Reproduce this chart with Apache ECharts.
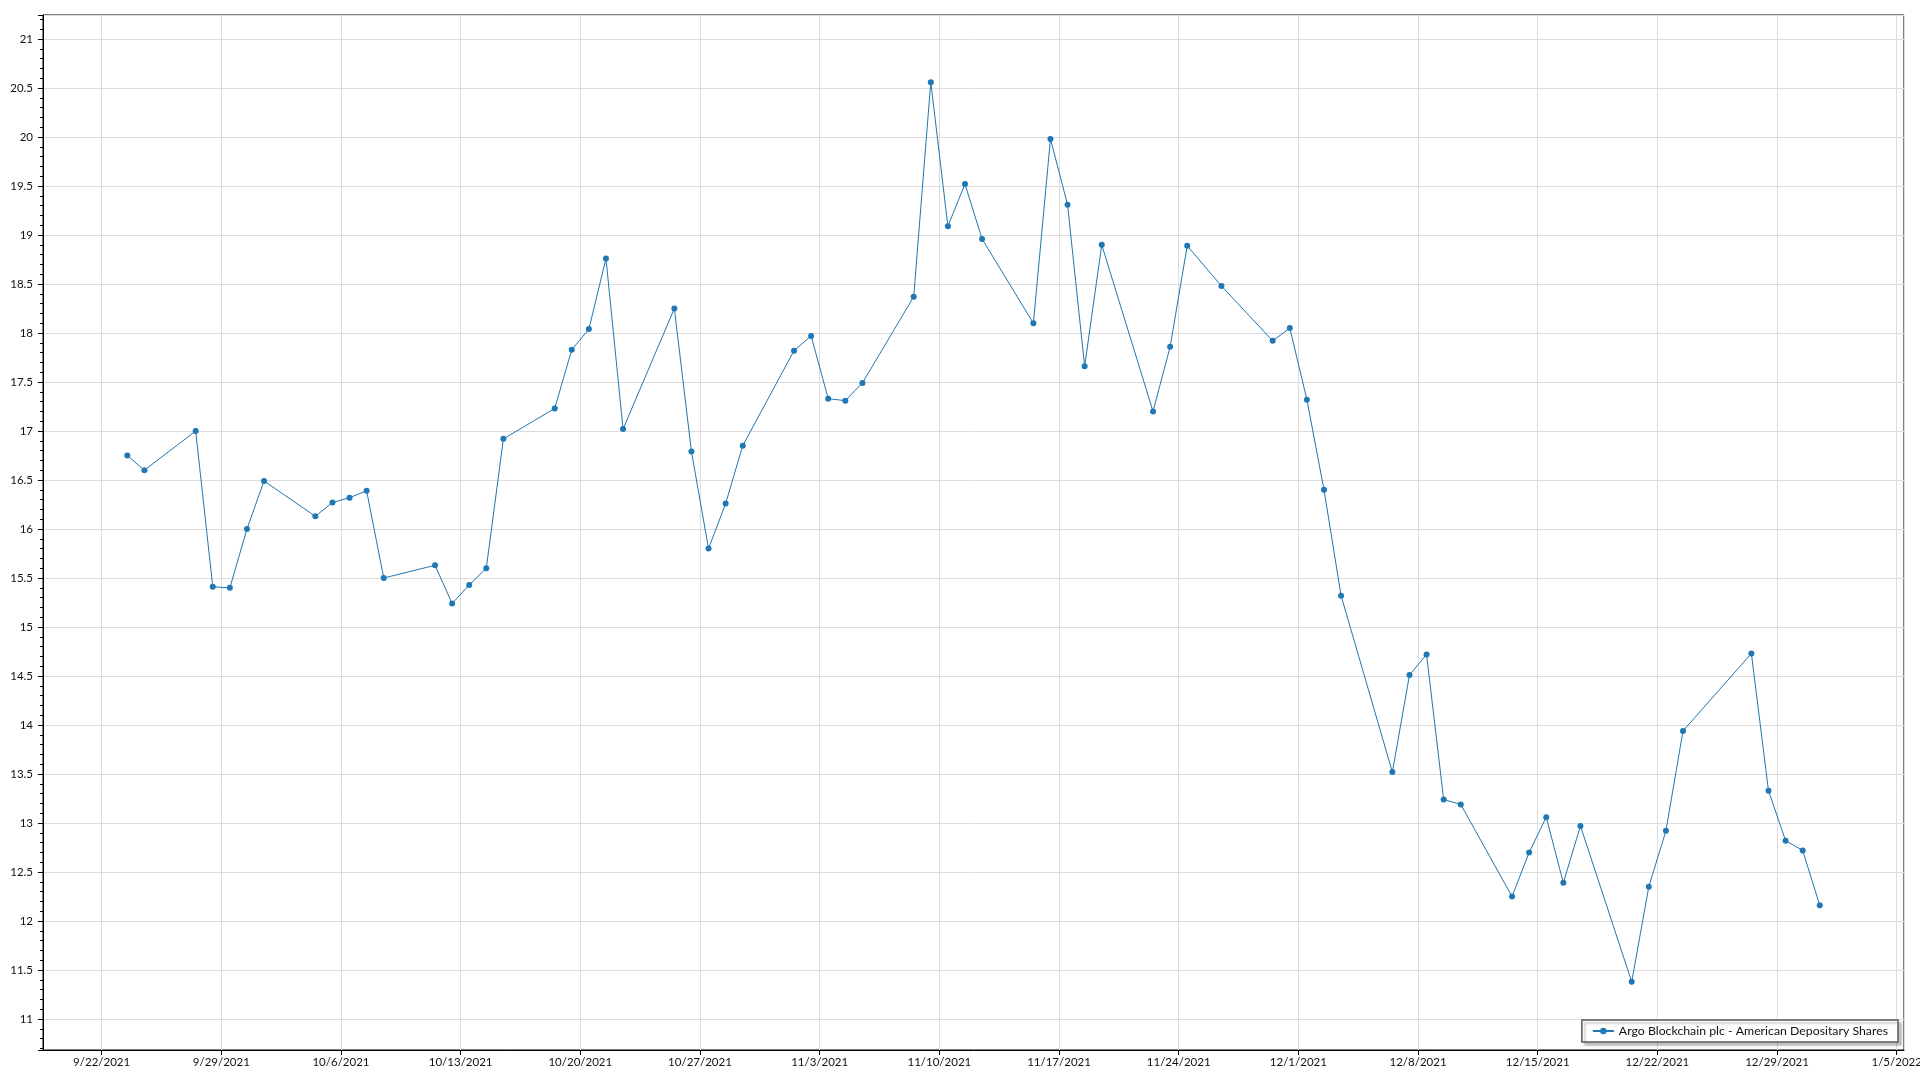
<!DOCTYPE html>
<html>
<head>
<meta charset="utf-8">
<script src="https://cdn.jsdelivr.net/npm/echarts@6/dist/echarts.min.js"></script>
<style>
html,body{margin:0;padding:0;background:#fff;}
#chart{width:1920px;height:1080px;}
</style>
</head>
<body>
<div id="chart"></div>
<script>
const seriesName = 'Argo Blockchain plc - American Depositary Shares';
const dates = ['2021-09-23','2021-09-24','2021-09-27','2021-09-28','2021-09-29','2021-09-30','2021-10-01','2021-10-04','2021-10-05','2021-10-06','2021-10-07','2021-10-08','2021-10-11','2021-10-12','2021-10-13','2021-10-14','2021-10-15','2021-10-18','2021-10-19','2021-10-20','2021-10-21','2021-10-22','2021-10-25','2021-10-26','2021-10-27','2021-10-28','2021-10-29','2021-11-01','2021-11-02','2021-11-03','2021-11-04','2021-11-05','2021-11-08','2021-11-09','2021-11-10','2021-11-11','2021-11-12','2021-11-15','2021-11-16','2021-11-17','2021-11-18','2021-11-19','2021-11-22','2021-11-23','2021-11-24','2021-11-26','2021-11-29','2021-11-30','2021-12-01','2021-12-02','2021-12-03','2021-12-06','2021-12-07','2021-12-08','2021-12-09','2021-12-10','2021-12-13','2021-12-14','2021-12-15','2021-12-16','2021-12-17','2021-12-20','2021-12-21','2021-12-22','2021-12-23','2021-12-27','2021-12-28','2021-12-29','2021-12-30','2021-12-31'];
const prices = [16.75,16.60,17.00,15.41,15.40,16.00,16.49,16.13,16.27,16.32,16.39,15.50,15.63,15.24,15.43,15.60,16.92,17.23,17.83,18.04,18.76,17.02,18.25,16.79,15.80,16.26,16.85,17.82,17.97,17.33,17.31,17.49,18.37,20.56,19.09,19.52,18.96,18.10,19.98,19.31,17.66,18.90,17.20,17.86,18.89,18.48,17.92,18.05,17.32,16.40,15.32,13.52,14.51,14.72,13.24,13.19,12.25,12.70,13.06,12.39,12.97,11.38,12.35,12.92,13.94,14.73,13.33,12.82,12.72,12.16];
// x-axis tick reference date (first labelled week) and range
const tickStartDate = '2021-09-22';
const xRangeStart = '2021-09-18T13:40';
const xRangeEnd = '2022-01-05T10:15';
const yMin = 10.684, yMax = 21.245;

const DAY = 86400000;
function toUTC(s){
  const [d,t] = s.split('T');
  const [Y,M,D] = d.split('-').map(Number);
  let h=0,m=0;
  if (t) { [h,m] = t.split(':').map(Number); }
  return Date.UTC(Y,M-1,D,h,m);
}
const REF = toUTC(tickStartDate);
const dayOf = s => (toUTC(s) - REF) / DAY;
const POINT_TIME = 0.5; // points plotted at midday
const data = dates.map((d,i)=>[dayOf(d)+POINT_TIME, prices[i]]);

const chart = echarts.init(document.getElementById('chart'), null, {renderer:'canvas'});
const font = 'Lato, "Noto Sans", sans-serif';
chart.setOption({
  animation:false,
  backgroundColor:'#fff',
  textStyle:{fontFamily:font},
  grid:{left:43,right:16,top:15,bottom:30,show:true,borderColor:'#000',borderWidth:1,backgroundColor:'transparent',outerBoundsMode:'none',containLabel:false},
  legend:{
    right:22,bottom:38,
    backgroundColor:'#fff',borderColor:'#5a5a5a',borderWidth:1.5,
    padding:[5,10],itemWidth:21,itemHeight:8,itemGap:5,
    shadowColor:'rgba(0,0,0,0.22)',shadowOffsetX:3,shadowOffsetY:3,shadowBlur:2,
    textStyle:{fontSize:12.3,color:'#111',fontFamily:font},
    data:[seriesName]
  },
  xAxis:{
    type:'value',
    min:dayOf(xRangeStart), max:dayOf(xRangeEnd),
    minInterval:7, maxInterval:7, splitNumber:16,
    axisLine:{onZero:false,lineStyle:{color:'#000',width:1}},
    axisTick:{show:true,length:5,lineStyle:{color:'#000'}},
    splitLine:{show:true,lineStyle:{color:'#dcdcdc',width:1}},
    axisLabel:{
      showMinLabel:false,showMaxLabel:false,margin:6,fontSize:11.5,color:'#111',fontFamily:font,
      formatter:function(v){
        const dt = new Date(REF + Math.round(v)*DAY);
        return (dt.getUTCMonth()+1)+'/'+dt.getUTCDate()+'/'+dt.getUTCFullYear();
      }
    }
  },
  yAxis:{
    type:'value',
    min:yMin,max:yMax,
    minInterval:0.5,maxInterval:0.5,splitNumber:21,
    axisLine:{show:true,onZero:false,lineStyle:{color:'#000',width:1}},
    axisTick:{show:true,length:5,lineStyle:{color:'#000'}},
    minorTick:{show:true,splitNumber:5,length:3,lineStyle:{color:'#000'}},
    splitLine:{show:true,lineStyle:{color:'#dcdcdc',width:1}},
    axisLabel:{showMinLabel:false,showMaxLabel:false,margin:10,fontSize:11.5,color:'#111',fontFamily:font}
  },
  series:[{
    name:seriesName,
    type:'line',
    data:data,
    symbol:'circle',symbolSize:6,showSymbol:true,
    lineStyle:{width:1,color:'#1f77b4'},
    itemStyle:{color:'#1f77b4'}
  }]
});
</script>
</body>
</html>
